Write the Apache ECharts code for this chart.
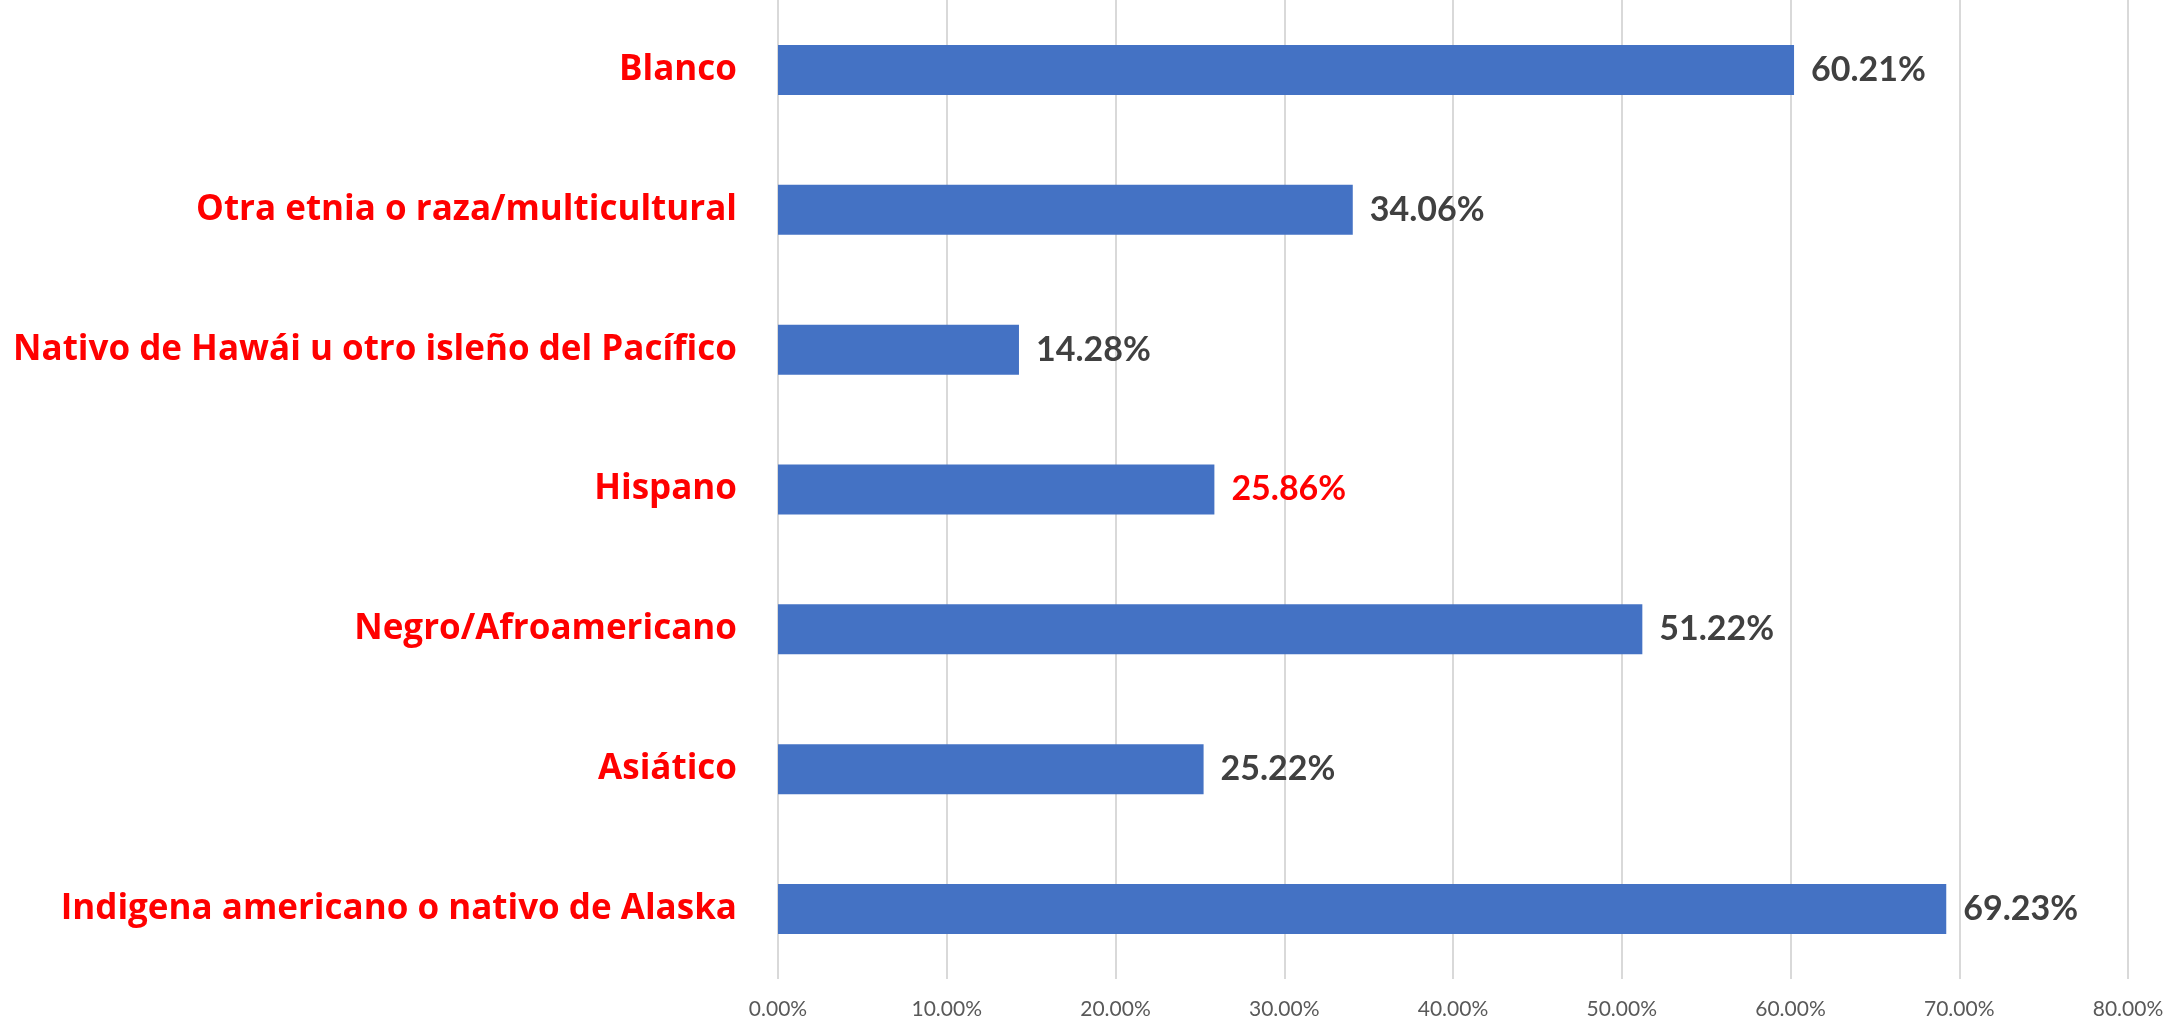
<!DOCTYPE html>
<html>
<head>
<meta charset="utf-8">
<script src="https://cdn.jsdelivr.net/npm/echarts@6/dist/echarts.min.js"></script>
<style>
html,body{margin:0;padding:0;background:#fff;}
#chart{width:2167px;height:1023px;}
</style>
</head>
<body>
<div id="chart"></div>
<script>
const categories = [
  "Blanco",
  "Otra etnia o raza/multicultural",
  "Nativo de Hawái u otro isleño del Pacífico",
  "Hispano",
  "Negro/Afroamericano",
  "Asiático",
  "Indigena americano o nativo de Alaska"
];
const values = [60.21, 34.06, 14.28, 25.86, 51.22, 25.22, 69.23];
const highlightIndex = [3];
const axisTicks = [0, 10, 20, 30, 40, 50, 60, 70, 80];

const FONT = "Lato";
const CAT_FONT = "Open Sans";
const chart = echarts.init(document.getElementById('chart'));
chart.setOption({
  animation: false,
  backgroundColor: '#ffffff',
  grid: {left: 778, right: 39, top: 0, bottom: 44, containLabel: false},
  xAxis: {
    type: 'value',
    min: axisTicks[0],
    max: axisTicks[axisTicks.length - 1],
    interval: axisTicks[1] - axisTicks[0],
    axisLine: {show: false},
    axisTick: {show: false},
    splitLine: {show: true, lineStyle: {color: '#d9d9d9', width: 2}},
    axisLabel: {
      color: '#595959', fontSize: 21, fontFamily: FONT, margin: 20,
      formatter: v => v.toFixed(2) + '%'
    }
  },
  yAxis: {
    type: 'category',
    data: categories,
    inverse: true,
    axisLine: {show: false},
    axisTick: {show: false},
    splitLine: {show: false},
    axisLabel: {
      color: '#ff0000', fontSize: 35, fontWeight: 'bold', fontFamily: CAT_FONT, margin: 41
    }
  },
  series: [{
    type: 'bar',
    barWidth: 50,
    data: values.map((v, i) => highlightIndex.includes(i)
      ? {value: v, label: {color: '#ff0000'}}
      : v),
    itemStyle: {color: '#4472C4'},
    label: {
      show: true, position: 'right', distance: 17,
      color: '#404040', fontSize: 34, fontWeight: 'bold', fontFamily: FONT,
      formatter: p => p.value.toFixed(2) + '%'
    }
  }]
});
</script>
</body>
</html>
